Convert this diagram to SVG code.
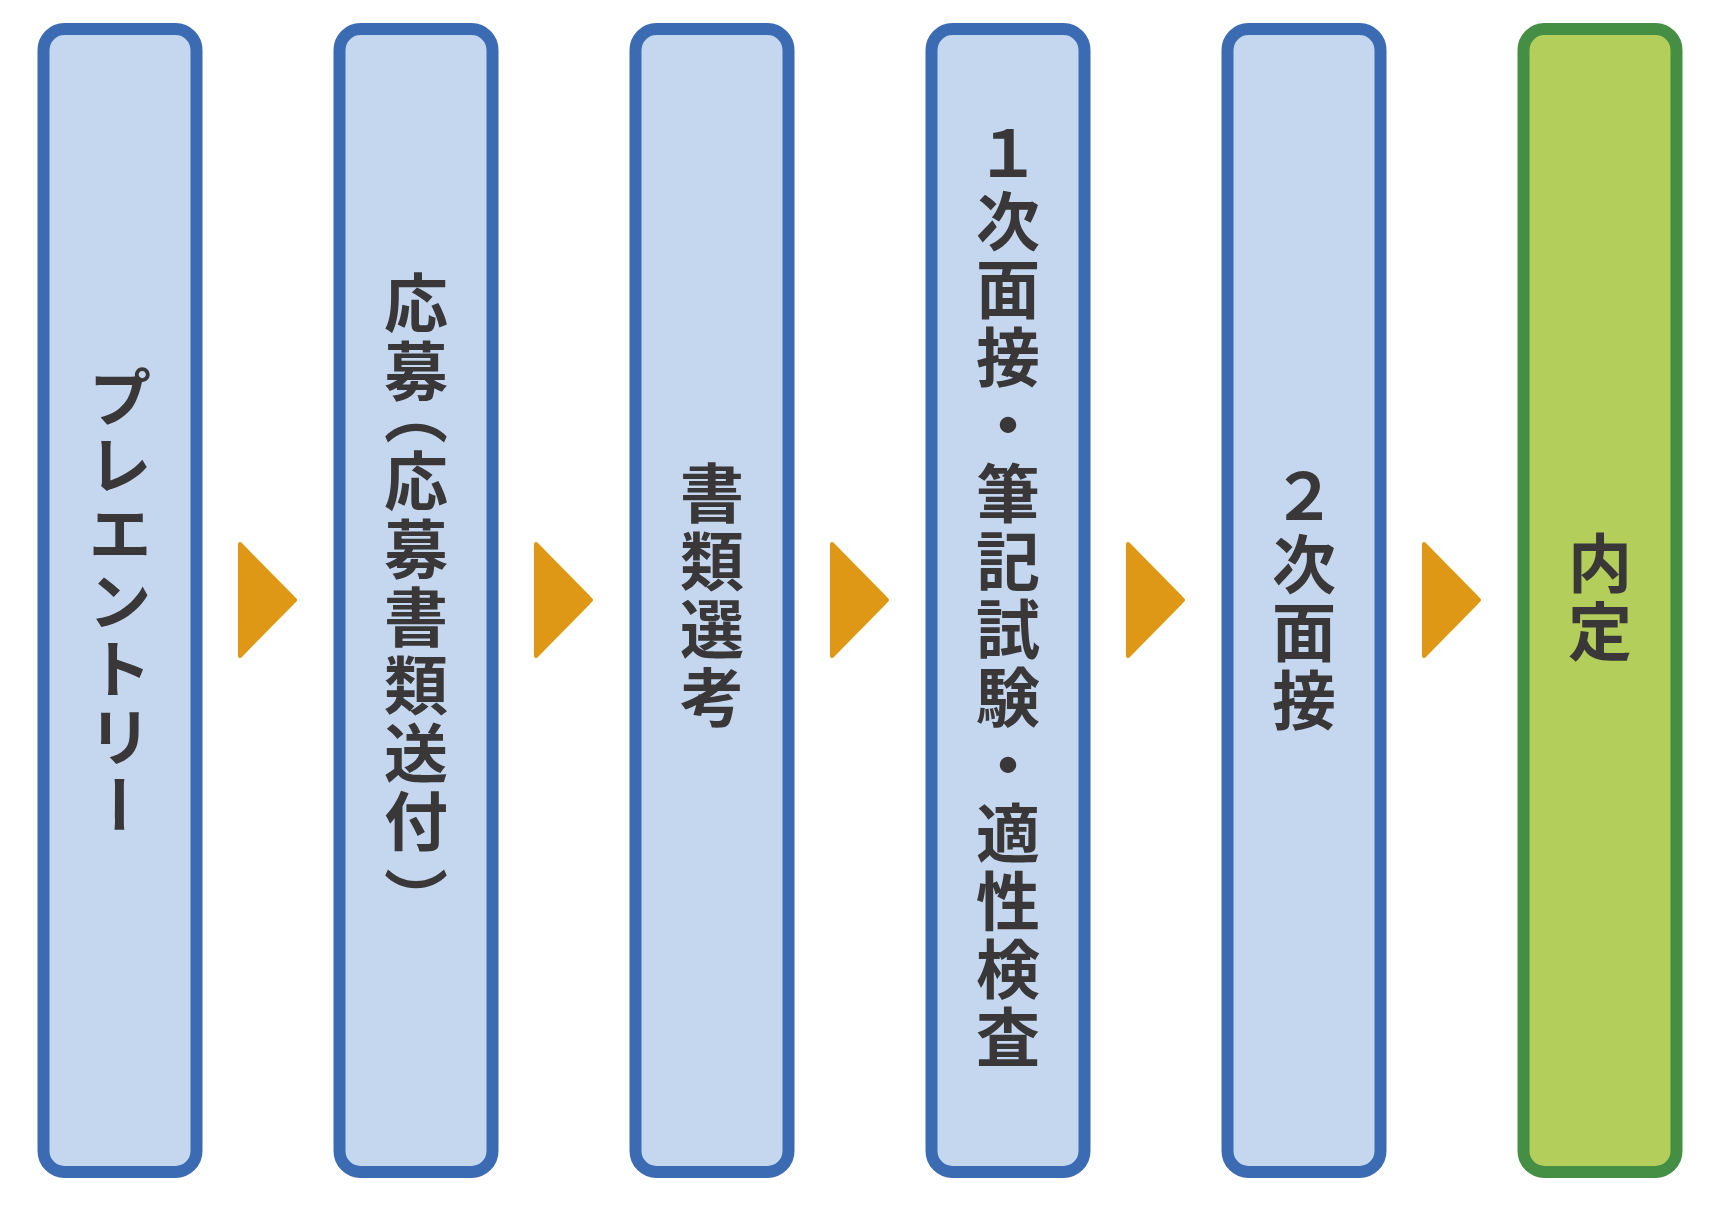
<svg xmlns="http://www.w3.org/2000/svg" width="1726" height="1214" viewBox="0 0 1726 1214">
<style>
.box{fill:#C5D7EF;stroke:#3A6BB3;stroke-width:12}
.goal{fill:#B3CE5B;stroke:#448F43;stroke-width:12}
.arrow{fill:#DF9816;stroke:#DF9816;stroke-width:4;stroke-linejoin:round}
.lbl{font-family:"Noto Sans CJK JP","Noto Sans CJK SC",sans-serif;font-weight:700;font-size:64px;fill:#393737;writing-mode:vertical-rl;text-orientation:mixed;letter-spacing:4px}
.p{font-feature-settings:"vpal"}
</style>
<rect width="1726" height="1214" fill="#FFFFFF"/>
<g id="connectors">
<polygon class="arrow" points="240,544 295,600 240,656"/>
<polygon class="arrow" points="536,544 591,600 536,656"/>
<polygon class="arrow" points="832,544 887,600 832,656"/>
<polygon class="arrow" points="1128,544 1183,600 1128,656"/>
<polygon class="arrow" points="1424,544 1479,600 1424,656"/>
</g>
<g id="node-entry">
<rect class="box" x="43.5" y="29" width="153" height="1143" rx="21"/>
<text class="lbl" x="120" y="603" text-anchor="middle">プレエントリー</text>
</g>
<g id="node-apply">
<rect class="box" x="339.5" y="29" width="153" height="1143" rx="21"/>
<text class="lbl" x="416" y="588" text-anchor="middle">応募<tspan class="p" dy="3">（</tspan><tspan dy="3">応募書類送付</tspan><tspan class="p" dy="12">）</tspan></text>
</g>
<g id="node-screening">
<rect class="box" x="635.5" y="29" width="153" height="1143" rx="21"/>
<text class="lbl" x="712" y="597" text-anchor="middle">書類選考</text>
</g>
<g id="node-first">
<rect class="box" x="931.5" y="29" width="153" height="1143" rx="21"/>
<text class="lbl" x="1008" y="597" text-anchor="middle">１次面接・筆記試験・適性検査</text>
</g>
<g id="node-second">
<rect class="box" x="1227.5" y="29" width="153" height="1143" rx="21"/>
<text class="lbl" x="1304" y="600" text-anchor="middle">２次面接</text>
</g>
<g id="node-offer">
<rect class="goal" x="1523.5" y="29" width="153" height="1143" rx="21"/>
<text class="lbl" x="1600" y="599" text-anchor="middle">内定</text>
</g>
</svg>
